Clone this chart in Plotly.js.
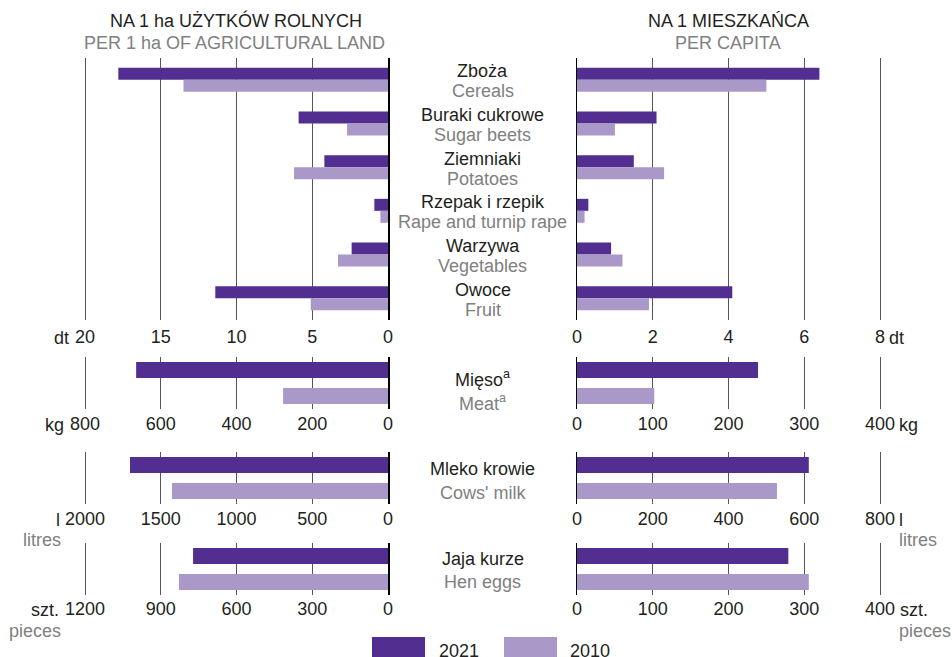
<!DOCTYPE html>
<html><head><meta charset="utf-8">
<script src="https://cdn.plot.ly/plotly-3.0.1.min.js"></script>
<style>html,body{margin:0;padding:0;background:#fff}#chart{width:952px;height:657px}</style>
</head><body><div id="chart"></div>
<script>
// ---- DATA ----
const years = ['2021', '2010'];
const cropCatsPl = ['Zboża', 'Buraki cukrowe', 'Ziemniaki', 'Rzepak i rzepik', 'Warzywa', 'Owoce'];
const cropCatsEn = ['Cereals', 'Sugar beets', 'Potatoes', 'Rape and turnip rape', 'Vegetables', 'Fruit'];
const cropPerHa2021 = [17.8, 5.9, 4.2, 0.9, 2.4, 11.4];
const cropPerHa2010 = [13.5, 2.7, 6.2, 0.5, 3.3, 5.1];
const cropPerCap2021 = [6.4, 2.1, 1.5, 0.3, 0.9, 4.1];
const cropPerCap2010 = [5.0, 1.0, 2.3, 0.2, 1.2, 1.9];
const animalCatsPl = ['Mięso<sup>a</sup>', 'Mleko krowie', 'Jaja kurze'];
const animalCatsEn = ['Meat<sup>a</sup>', "Cows' milk", 'Hen eggs'];
const animalPerHa2021 = [665, 1703, 772];
const animalPerHa2010 = [277, 1426, 828];
const animalPerCap2021 = [239, 612, 279];
const animalPerCap2010 = [102, 528, 306];
const leftMax = [20, 800, 2000, 1200];
const leftStep = [5, 200, 500, 300];
const rightMax = [8, 400, 800, 400];
const rightStep = [2, 100, 200, 100];
const unitsPl = ['dt', 'kg', 'l', 'szt.'];
const unitsEn = ['', '', 'litres', 'pieces'];

// ---- STYLE / GEOMETRY ----
const W = 952, H = 657;
const C21 = '#522e91', C10 = '#aa98c9';
const DARK = '#231f20', GRAY = '#808080';
const FONT = 'Liberation Sans, Arial, sans-serif';
const FS = 18;
const rowsPx = [[58, 320], [357, 409], [452, 504], [543, 595]];
const leftPx = [85, 388], rightPx = [577, 880];
const EXT = 3; // px of extra room so the outer gridline is drawn
const tickStandoff = [4, 2, 2, 1];
const tickLabelPx = [336, 423, 518, 608];
const enUnitPx = [null, null, 538, 629];
const ANN_DY = 1.5;
const px2x = p => p / W;
const px2y = p => 1 - p / H;

const traces = [];
const layout = {
  width: W, height: H, margin: {l: 0, r: 0, t: 0, b: 0},
  paper_bgcolor: '#fff', plot_bgcolor: 'rgba(0,0,0,0)',
  showlegend: false, barmode: 'overlay',
  font: {family: FONT, size: FS, color: DARK},
  annotations: [], shapes: []
};

function addPanel(row, side, cats, v21, v10) {
  const k = row * 2 + side + 1;
  const xa = 'xaxis' + (k === 1 ? '' : k), ya = 'yaxis' + (k === 1 ? '' : k);
  const xr = 'x' + (k === 1 ? '' : k), yr = 'y' + (k === 1 ? '' : k);
  const n = cats.length;
  const hPx = rowsPx[row][1] - rowsPx[row][0];
  const catPx = hPx / n;
  let w, o21, o10;
  if (row === 0) { w = 12 / catPx; o21 = -w; o10 = 0; }
  else { w = 16 / catPx; o21 = -0.5 + 5 / catPx; o10 = -0.5 + 31 / catPx; }
  traces.push({type: 'bar', orientation: 'h', name: years[0], y: cats, x: v21, xaxis: xr, yaxis: yr,
    width: w, offset: o21, marker: {color: C21, line: {width: 0}}, hoverinfo: 'x'});
  traces.push({type: 'bar', orientation: 'h', name: years[1], y: cats, x: v10, xaxis: xr, yaxis: yr,
    width: w, offset: o10, marker: {color: C10, line: {width: 0}}, hoverinfo: 'x'});
  const max = side === 0 ? leftMax[row] : rightMax[row];
  const step = side === 0 ? leftStep[row] : rightStep[row];
  const xp = side === 0 ? leftPx : rightPx;
  const unitPerPx = max / (xp[1] - xp[0]);
  const extMax = max + EXT * unitPerPx;
  const dom = side === 0 ? [xp[0] - EXT, xp[1]] : [xp[0], xp[1] + EXT];
  layout[xa] = {
    domain: [px2x(dom[0]), px2x(dom[1])], anchor: yr,
    range: side === 0 ? [extMax, 0] : [0, extMax], tick0: 0, dtick: step,
    showgrid: true, gridcolor: '#555', gridwidth: 1, zeroline: false, showline: false,
    ticks: '', tickfont: {size: FS, color: DARK, family: FONT}, fixedrange: true,
    ticklabelstandoff: tickStandoff[row]
  };
  layout[ya] = {
    domain: [px2y(rowsPx[row][1]), px2y(rowsPx[row][0])], anchor: xr,
    type: 'category', categoryorder: 'array', categoryarray: cats,
    range: [n - 0.5, -0.5], showgrid: false, showticklabels: false, zeroline: false,
    showline: true, linecolor: '#000', linewidth: 1.5, side: side === 0 ? 'right' : 'left',
    ticks: '', fixedrange: true
  };
}

addPanel(0, 0, cropCatsPl, cropPerHa2021, cropPerHa2010);
addPanel(0, 1, cropCatsPl, cropPerCap2021, cropPerCap2010);
for (let j = 0; j < 3; j++) {
  addPanel(j + 1, 0, [animalCatsPl[j]], [animalPerHa2021[j]], [animalPerHa2010[j]]);
  addPanel(j + 1, 1, [animalCatsPl[j]], [animalPerCap2021[j]], [animalPerCap2010[j]]);
}

function ann(text, xpx, ypx, color, xanchor) {
  layout.annotations.push({text: text, x: px2x(xpx), y: px2y(ypx + ANN_DY), xref: 'paper', yref: 'paper',
    xanchor: xanchor || 'center', yanchor: 'middle', showarrow: false,
    font: {family: FONT, size: FS, color: color}});
}

// headers
ann('NA 1 ha UŻYTKÓW ROLNYCH', 236, 19, DARK);
ann('PER 1 ha OF AGRICULTURAL LAND', 234, 41, GRAY);
ann('NA 1 MIESZKAŃCA', 728, 19, DARK);
ann('PER CAPITA', 728, 41, GRAY);

// centre category labels
const midX = (leftPx[1] + rightPx[0]) / 2;
const cropCatPx = (rowsPx[0][1] - rowsPx[0][0]) / cropCatsPl.length;
cropCatsPl.forEach((c, i) => {
  const cy = rowsPx[0][0] + (i + 0.5) * cropCatPx;
  ann(c, midX, cy - 10, DARK);
  ann(cropCatsEn[i], midX, cy + 10, GRAY);
});
const animalLabelPx = [[377, 401], [467, 491], [557, 580]];
animalCatsPl.forEach((c, j) => {
  ann(c, midX, animalLabelPx[j][0], DARK);
  ann(animalCatsEn[j], midX, animalLabelPx[j][1], GRAY);
});

// unit labels
const leftUnitRight = [71, 66, 62, 61];
const rightUnitLeft = [887, 897, 897, 898];
unitsPl.forEach((u, r) => {
  ann(u, leftUnitRight[r], tickLabelPx[r], DARK, 'right');
  ann(u, rightUnitLeft[r], tickLabelPx[r], DARK, 'left');
  if (unitsEn[r]) {
    ann(unitsEn[r], 63, enUnitPx[r], GRAY, 'right');
    ann(unitsEn[r], 897, enUnitPx[r], GRAY, 'left');
  }
});

// legend
const legendPx = [[372, 425, 437, C21], [504, 557, 568, C10]];
legendPx.forEach((L, i) => {
  layout.shapes.push({type: 'rect', xref: 'paper', yref: 'paper', x0: px2x(L[0]), x1: px2x(L[1]),
    y0: px2y(657), y1: px2y(637), fillcolor: L[3], line: {width: 0}});
  ann(years[i], L[2], 649, DARK, 'left');
});

Plotly.newPlot('chart', traces, layout, {displayModeBar: false, staticPlot: true});
</script>
</body></html>
